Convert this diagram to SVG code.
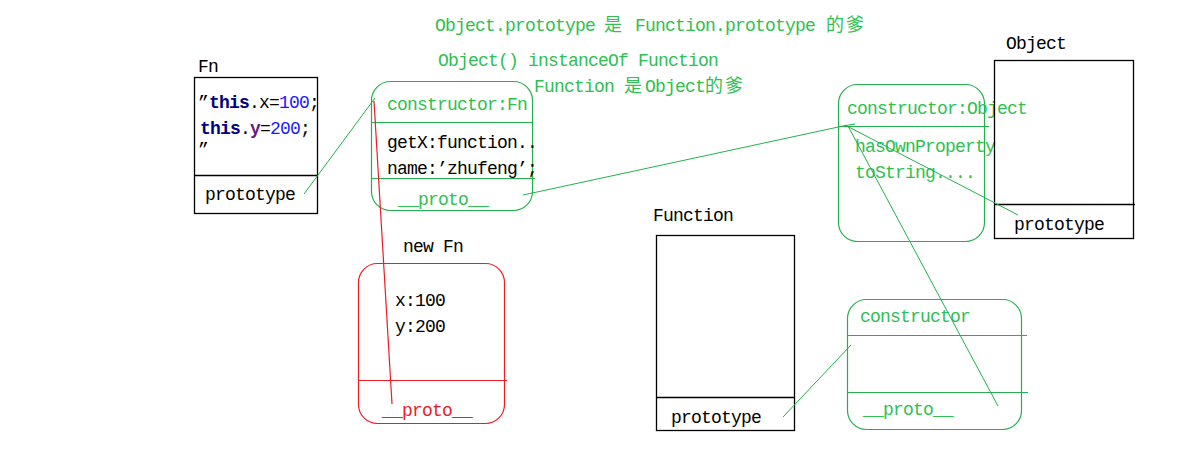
<svg xmlns="http://www.w3.org/2000/svg" width="1200" height="460" viewBox="0 0 1200 460">
<style>
text{font-family:"Liberation Mono","DejaVu Sans Mono","Noto Sans CJK SC",monospace;font-size:18px;letter-spacing:-0.8px;fill:#000}
.g{fill:#2fbf52}
.r{fill:#e8202a}
.cjk{font-family:"Noto Sans CJK SC",sans-serif;font-size:18px;letter-spacing:2px}
.box{fill:none;stroke:#000;stroke-width:1.3}
.gbox{fill:none;stroke:#22b14c;stroke-width:1.2}
.rbox{fill:none;stroke:#ee1c24;stroke-width:1.2}
.gl{stroke:#22b14c;stroke-width:1;fill:none}
.rl{stroke:#ee1c24;stroke-width:1.2;fill:none}
.kw{font-weight:bold;fill:#000080}
.num{fill:#1a1aff}
.pv{font-weight:bold;fill:#6a1a7a}
</style>

<g id="notes">
<text class="g" y="31"><tspan x="435">Object.prototype</tspan><tspan x="604" class="cjk">是</tspan><tspan x="635">Function.prototype</tspan><tspan x="826" class="cjk">的爹</tspan></text>
<text class="g" x="438" y="66">Object() instanceOf Function</text>
<text class="g" y="92"><tspan x="534">Function</tspan><tspan x="624" class="cjk">是</tspan><tspan x="645">Object</tspan><tspan x="705" class="cjk">的爹</tspan></text>
</g>

<g id="fn">
<text x="198" y="72">Fn</text>
<rect class="box" x="194.5" y="77.5" width="123" height="136"/>
<line class="box" x1="194" y1="175.5" x2="318" y2="175.5"/>
<text y="108"><tspan x="198">”</tspan><tspan x="209" class="kw">this</tspan><tspan>.x=</tspan><tspan class="num">100</tspan><tspan>;</tspan></text>
<text y="134"><tspan x="200" class="kw">this</tspan><tspan>.</tspan><tspan class="pv">y</tspan><tspan>=</tspan><tspan class="num">200</tspan><tspan>;</tspan></text>
<text x="198" y="155">”</text>
<text x="205" y="200">prototype</text>
</g>

<g id="fn-prototype">
<rect class="gbox" x="371.5" y="81.5" width="161" height="129" rx="19"/>
<line class="gl" x1="371" y1="122.5" x2="533" y2="122.5"/>
<line class="gl" x1="371" y1="178.5" x2="535" y2="178.5"/>
<text class="g" x="387" y="110">constructor:Fn</text>
<text x="387" y="148">getX:function..</text>
<text x="387" y="174">name:’zhufeng’;</text>
<text class="g" x="398" y="205">__proto__</text>
</g>

<g id="new-fn">
<text x="403" y="252">new Fn</text>
<rect class="rbox" x="358.5" y="263.5" width="146" height="160" rx="19"/>
<line class="rl" x1="358" y1="380.5" x2="507" y2="380.5"/>
<text x="395" y="306">x:100</text>
<text x="395" y="332">y:200</text>
<text class="r" x="382" y="416">__proto__</text>
</g>

<g id="function">
<text x="653" y="221">Function</text>
<rect class="box" x="656.5" y="235.5" width="138" height="195"/>
<line class="box" x1="656" y1="397.5" x2="795" y2="397.5"/>
<text x="671" y="423">prototype</text>
</g>

<g id="function-prototype">
<rect class="gbox" x="847.5" y="299.5" width="174" height="130" rx="19"/>
<line class="gl" x1="847" y1="335.5" x2="1027" y2="335.5"/>
<line class="gl" x1="848" y1="392.5" x2="1028" y2="392.5"/>
<text class="g" x="860" y="322">constructor</text>
<text class="g" x="863" y="415">__proto__</text>
</g>

<g id="object-prototype">
<rect class="gbox" x="838.5" y="84.5" width="146" height="157" rx="19"/>
<line class="gl" x1="838" y1="126.5" x2="989" y2="126.5"/>
<text class="g" x="847" y="114">constructor:Object</text>
<text class="g" x="855" y="152">hasOwnProperty</text>
<text class="g" x="855" y="178">toString....</text>
</g>

<g id="object">
<text x="1006" y="49">Object</text>
<rect class="box" x="994.5" y="60.5" width="139" height="178"/>
<line class="box" x1="995" y1="204.5" x2="1135" y2="204.5"/>
<text x="1014" y="230">prototype</text>
</g>

<g id="connectors">
<line class="rl" x1="374" y1="101" x2="392" y2="404"/>
<line class="gl" x1="304" y1="194" x2="375" y2="98"/>
<line class="gl" x1="523" y1="195" x2="843" y2="126"/>
<line class="gl" x1="843" y1="126" x2="855" y2="124"/>
<line class="gl" x1="845" y1="125" x2="1018" y2="215"/>
<line class="gl" x1="848" y1="126" x2="998" y2="406"/>
<line class="gl" x1="783" y1="417" x2="851" y2="345"/>
</g>
</svg>
